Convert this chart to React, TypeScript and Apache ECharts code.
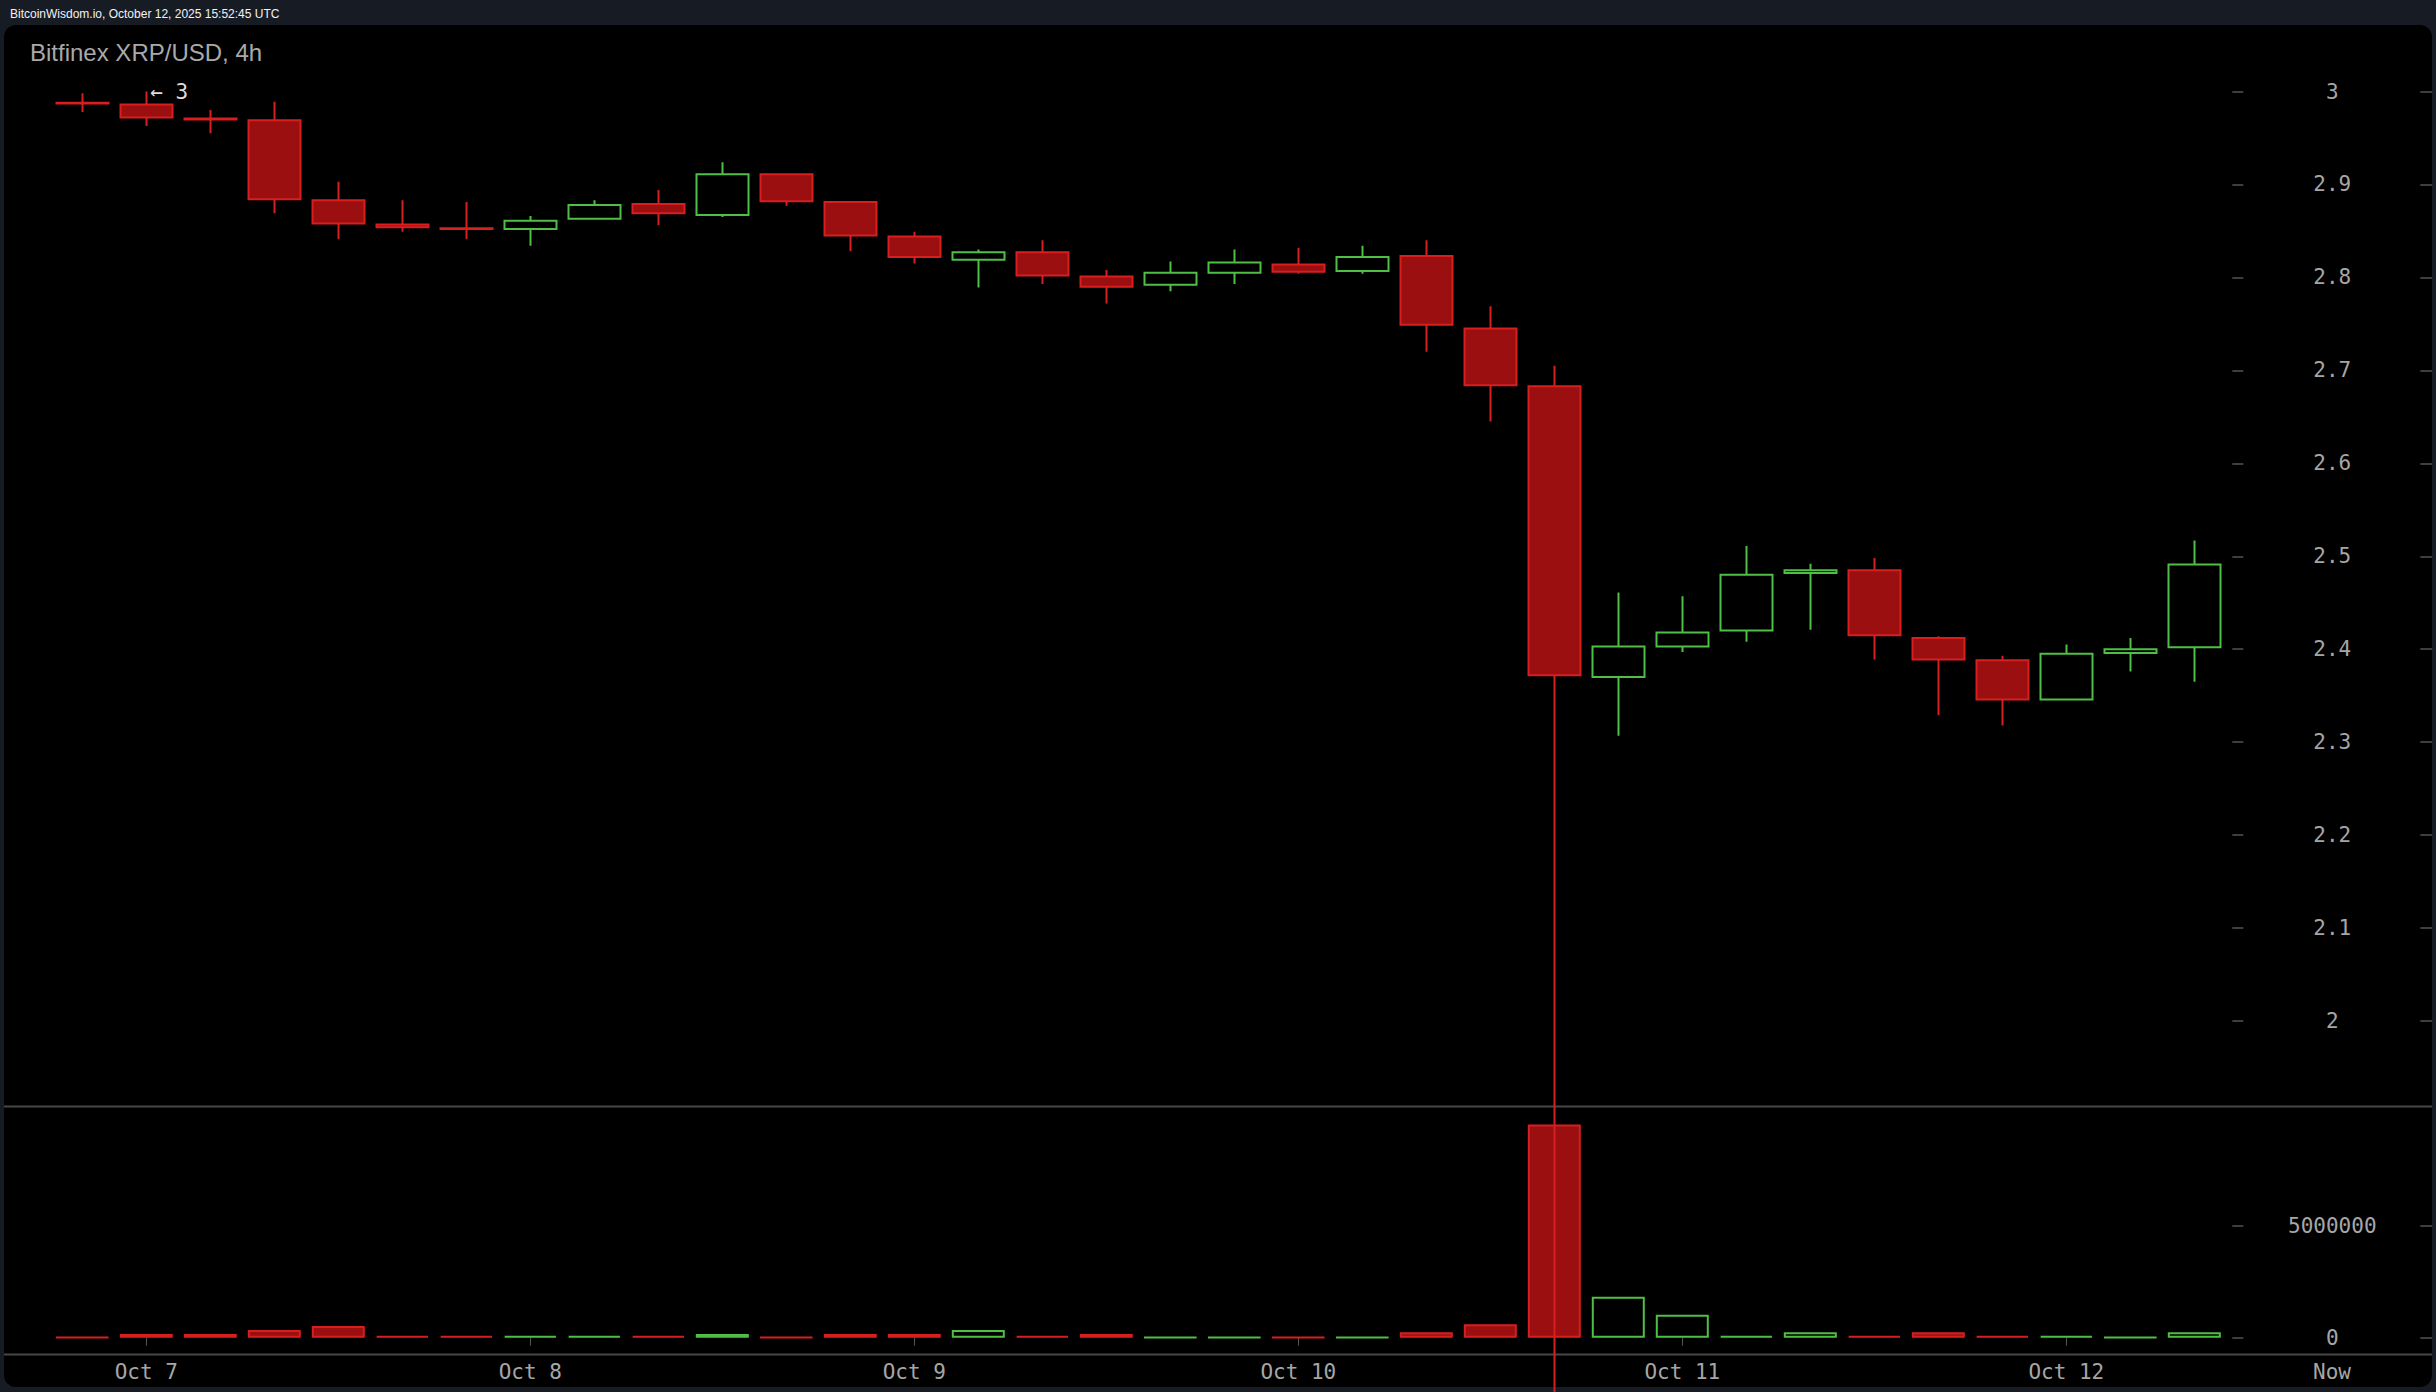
import React, { useEffect, useRef } from 'react';
import * as echarts from 'echarts';

const categories = [
  'Oct 6 20:00',
  'Oct 7 00:00', 'Oct 7 04:00', 'Oct 7 08:00', 'Oct 7 12:00', 'Oct 7 16:00', 'Oct 7 20:00',
  'Oct 8 00:00', 'Oct 8 04:00', 'Oct 8 08:00', 'Oct 8 12:00', 'Oct 8 16:00', 'Oct 8 20:00',
  'Oct 9 00:00', 'Oct 9 04:00', 'Oct 9 08:00', 'Oct 9 12:00', 'Oct 9 16:00', 'Oct 9 20:00',
  'Oct 10 00:00', 'Oct 10 04:00', 'Oct 10 08:00', 'Oct 10 12:00', 'Oct 10 16:00', 'Oct 10 20:00',
  'Oct 11 00:00', 'Oct 11 04:00', 'Oct 11 08:00', 'Oct 11 12:00', 'Oct 11 16:00', 'Oct 11 20:00',
  'Oct 12 00:00', 'Oct 12 04:00', 'Oct 12 08:00',
];

const opens = [
  2.988, 2.986, 2.971, 2.969, 2.883, 2.857, 2.853, 2.852, 2.863, 2.879, 2.867, 2.911,
  2.881, 2.844, 2.819, 2.827, 2.801, 2.792, 2.805, 2.814, 2.807, 2.823, 2.745, 2.683,
  2.370, 2.403, 2.420, 2.482, 2.485, 2.412, 2.388, 2.346, 2.396, 2.402,
];
const highs = [
  2.998, 3.0, 2.98, 2.989, 2.903, 2.883, 2.881, 2.866, 2.883, 2.894, 2.924, 2.911,
  2.882, 2.849, 2.83, 2.84, 2.808, 2.817, 2.83, 2.832, 2.834, 2.84, 2.769, 2.705,
  2.461, 2.457, 2.511, 2.492, 2.498, 2.414, 2.393, 2.405, 2.412, 2.517,
];
const lows = [
  2.978, 2.963, 2.955, 2.869, 2.841, 2.849, 2.841, 2.834, 2.862, 2.856, 2.865, 2.877,
  2.828, 2.815, 2.789, 2.793, 2.772, 2.785, 2.793, 2.804, 2.804, 2.72, 2.645, 1.6,
  2.307, 2.397, 2.408, 2.421, 2.389, 2.329, 2.318, 2.346, 2.376, 2.365,
];
const closes = [
  2.987, 2.972, 2.97, 2.884, 2.858, 2.854, 2.852, 2.861, 2.878, 2.869, 2.911, 2.882,
  2.845, 2.822, 2.827, 2.802, 2.79, 2.805, 2.816, 2.806, 2.822, 2.749, 2.684, 2.372,
  2.403, 2.418, 2.48, 2.485, 2.415, 2.389, 2.346, 2.395, 2.4, 2.491,
];
const volumes = [
  20000, 165000, 165000, 344000, 522000, 75000, 75000, 75000, 75000, 75000, 165000, 20000,
  165000, 165000, 344000, 75000, 165000, 20000, 20000, 20000, 20000, 238000, 595000, 9520000,
  1830000, 1030000, 75000, 238000, 75000, 238000, 75000, 75000, 20000, 238000,
];

const priceTicks = [2, 2.1, 2.2, 2.3, 2.4, 2.5, 2.6, 2.7, 2.8, 2.9, 3];
const volumeTicks = [0, 5000000];

const RED_FILL = '#9b0f10';
const RED_LINE = '#d81f1f';
const GREEN_LINE = '#4fbf45';
const LABEL = '#a6a6a6';
const TICK = '#3e3e3e';
const MONO = '"DejaVu Sans Mono", monospace';

function buildOption() {
  const candleData = categories.map((_, i) => [opens[i], closes[i], lows[i], highs[i]]);
  const volData = volumes.map((v, i) => {
    const up = closes[i] >= opens[i];
    return {
      value: v,
      itemStyle: up
        ? { color: '#000', borderColor: GREEN_LINE, borderWidth: 2 }
        : { color: RED_FILL, borderColor: RED_LINE, borderWidth: 2 },
    };
  });
  const maxHigh = Math.max(...highs);
  const maxIdx = highs.indexOf(maxHigh);
  const isDay = (v: string) => v.endsWith(' 00:00');
  const dayLabel = (v: string) => v.replace(' 00:00', '');

  const gridLeft = 50.3;
  const gridWidth = 2176;

  return {
    animation: false,
    backgroundColor: '#171b24',
    graphic: [
      {
        type: 'rect', z: -10, silent: true,
        shape: { x: 4, y: 25, width: 2428, height: 1362, r: 12 },
        style: { fill: '#000' },
      },
      {
        type: 'text', z: 10, silent: true, x: 10, y: 14,
        style: { text: 'BitcoinWisdom.io, October 12, 2025 15:52:45 UTC', fill: '#f2f2f2', font: '12px "Liberation Sans", Arial, sans-serif', verticalAlign: 'middle' },
      },
      {
        type: 'text', z: 10, silent: true, x: 30, y: 52,
        style: { text: 'Bitfinex XRP/USD, 4h', fill: '#a9a9a9', font: '24px "Liberation Sans", Arial, sans-serif', verticalAlign: 'middle' },
      },
      {
        type: 'line', z: 1, silent: true,
        shape: { x1: 4, y1: 1106.5, x2: 2432, y2: 1106.5 },
        style: { stroke: '#474747', lineWidth: 2 },
      },
      {
        type: 'line', z: 1, silent: true,
        shape: { x1: 4, y1: 1354.5, x2: 2432, y2: 1354.5 },
        style: { stroke: '#474747', lineWidth: 2 },
      },
      {
        type: 'text', z: 10, silent: true, x: 2332, y: 1372,
        style: { text: 'Now', fill: LABEL, font: '21px ' + MONO, align: 'center', verticalAlign: 'middle' },
      },
    ],
    grid: [
      { left: gridLeft, width: gridWidth, top: 91.5, height: 929.5 },
      { left: gridLeft, width: gridWidth, top: 1113.7, height: 224 },
    ],
    xAxis: [
      {
        type: 'category', gridIndex: 0, data: categories, boundaryGap: true,
        axisLine: { show: false }, axisTick: { show: false }, axisLabel: { show: false }, splitLine: { show: false },
      },
      {
        type: 'category', gridIndex: 1, data: categories, boundaryGap: true, offset: 16,
        axisLine: { show: false },
        axisTick: {
          show: true, alignWithLabel: true, length: 8,
          interval: (i: number, v: string) => isDay(v),
          lineStyle: { color: '#555', width: 1 },
        },
        axisLabel: {
          show: true, margin: 8,
          interval: (i: number, v: string) => isDay(v),
          formatter: (v: string) => dayLabel(v),
          color: LABEL, fontFamily: MONO, fontSize: 21,
        },
        splitLine: { show: false },
      },
    ],
    yAxis: [
      {
        type: 'value', gridIndex: 0, position: 'right', offset: 6,
        min: 2, max: 3, interval: 0.1,
        axisLine: { show: false },
        axisTick: { show: true, length: 11, lineStyle: { color: TICK, width: 2 }, customValues: priceTicks },
        axisLabel: { show: true, margin: 100, align: 'center', color: LABEL, fontFamily: MONO, fontSize: 21, customValues: priceTicks },
        splitLine: { show: false },
      },
      {
        type: 'value', gridIndex: 0, position: 'right', offset: 194,
        min: 2, max: 3, interval: 0.1,
        axisLine: { show: false },
        axisTick: { show: true, length: 12, lineStyle: { color: TICK, width: 2 }, customValues: priceTicks },
        axisLabel: { show: false },
        splitLine: { show: false },
      },
      {
        type: 'value', gridIndex: 1, position: 'right', offset: 6,
        min: 0, max: 10000000,
        axisLine: { show: false },
        axisTick: { show: true, length: 11, lineStyle: { color: TICK, width: 2 }, customValues: volumeTicks },
        axisLabel: {
          show: true, margin: 100, align: 'center', color: LABEL, fontFamily: MONO, fontSize: 21,
          customValues: volumeTicks, formatter: (v: number) => String(v),
        },
        splitLine: { show: false },
      },
      {
        type: 'value', gridIndex: 1, position: 'right', offset: 194,
        min: 0, max: 10000000,
        axisLine: { show: false },
        axisTick: { show: true, length: 12, lineStyle: { color: TICK, width: 2 }, customValues: volumeTicks },
        axisLabel: { show: false },
        splitLine: { show: false },
      },
    ],
    series: [
      {
        type: 'bar', name: 'Volume', xAxisIndex: 1, yAxisIndex: 2,
        data: volData, barWidth: 53, z: 2,
      },
      {
        type: 'candlestick', name: 'XRP/USD', xAxisIndex: 0, yAxisIndex: 0,
        data: candleData, barWidth: 53, clip: false, z: 3,
        itemStyle: {
          color: '#000', color0: RED_FILL,
          borderColor: GREEN_LINE, borderColor0: RED_LINE,
          borderWidth: 2,
        },
        markPoint: {
          symbol: 'circle', symbolSize: 0, silent: true,
          data: [{ coord: [categories[maxIdx], maxHigh], value: maxHigh }],
          label: {
            show: true, position: 'right', distance: 4,
            formatter: () => '\u2190 ' + String(maxHigh),
            color: '#dddddd', fontFamily: MONO, fontSize: 21,
          },
        },
      },
    ],
  };
}

export default function App() {
  const ref = useRef<HTMLDivElement>(null);
  useEffect(() => {
    const chart = echarts.init(ref.current as HTMLDivElement, null, { renderer: 'svg' });
    chart.setOption(buildOption() as any);
    return () => chart.dispose();
  }, []);
  return (
    <div
      ref={ref}
      style={{ position: 'fixed', left: 0, top: 0, width: 2436, height: 1392 }}
    />
  );
}
